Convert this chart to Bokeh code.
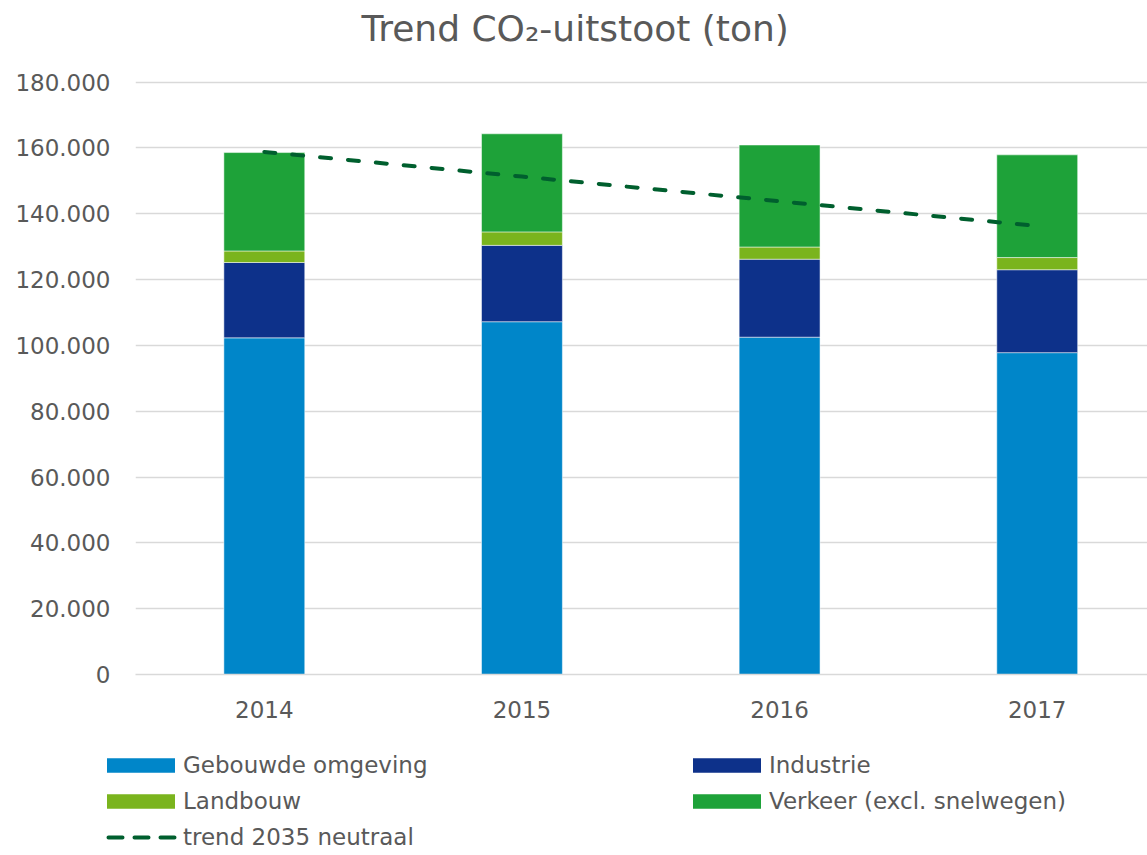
from bokeh.plotting import figure
from bokeh.layouts import column, row
from bokeh.models import (ColumnDataSource, Range1d, FixedTicker, Legend, LegendItem)
from bokeh.embed import file_html
from bokeh.resources import INLINE

years = ["2014", "2015", "2016", "2017"]
gebouwde = [102300, 107200, 102500, 97800]
industrie = [22900, 23200, 23700, 25200]
landbouw = [3500, 4100, 3700, 3700]
verkeer = [29900, 29800, 31000, 31200]
trend = [158800, 151300, 143800, 136300]
y_ticks = [0, 20000, 40000, 60000, 80000, 100000, 120000, 140000, 160000, 180000]

title_text = "Trend CO\u2082-uitstoot (ton)"
series_names = ["Gebouwde omgeving", "Industrie", "Landbouw", "Verkeer (excl. snelwegen)"]
colors = ["#0086C9", "#0D318A", "#7AB41D", "#1EA239"]
trend_name = "trend 2035 neutraal"
trend_color = "#005F2E"

FONT = "DejaVu Sans"
TXT = "#595959"
GRID = "#D9D9D9"

# ---- title strip ----
t = figure(width=1147, height=62, output_backend="svg", toolbar_location=None,
           x_range=Range1d(0, 1), y_range=Range1d(0, 1),
           x_axis_type=None, y_axis_type=None,
           min_border_left=0, min_border_right=0, min_border_top=0, min_border_bottom=0)
t.outline_line_color = None
t.xgrid.grid_line_color = None
t.ygrid.grid_line_color = None
t.title.text = title_text
t.title.text_font = FONT
t.title.text_font_size = "36px"
t.title.text_font_style = "normal"
t.title.text_color = TXT
t.title.align = "left"
t.title.offset = 226
t.title.standoff = 10

# ---- main chart ----
xpos = list(range(len(years)))
src = ColumnDataSource(dict(x=xpos, g=gebouwde, i=industrie, l=landbouw, v=verkeer, t=trend))

p = figure(width=1147, height=673, output_backend="svg", toolbar_location=None,
           title=None,
           x_range=Range1d(-0.5, 3.428), y_range=Range1d(0, 180500),
           min_border_left=135, min_border_right=0, min_border_top=18, min_border_bottom=61)
p.outline_line_color = None
p.background_fill_color = "white"
p.border_fill_color = "white"

stack_r = p.vbar_stack(["g", "i", "l", "v"], x="x", width=0.314, source=src,
                       color=colors, line_color="white", line_alpha=0.5, line_width=1)
trend_r = p.line(x="x", y="t", source=src, line_color=trend_color, line_width=4,
                 line_dash="11 17", line_cap="round")

p.xgrid.grid_line_color = None
p.ygrid.grid_line_color = GRID
p.ygrid.grid_line_width = 1.3
p.ygrid.ticker = FixedTicker(ticks=y_ticks)

yax = p.yaxis[0]
yax.ticker = FixedTicker(ticks=y_ticks)
yax.major_label_overrides = {v: f"{v:,}".replace(",", ".") for v in y_ticks}
yax.axis_line_color = None
yax.major_tick_line_color = None
yax.minor_tick_line_color = None
yax.major_label_text_font = FONT
yax.major_label_text_font_size = "23px"
yax.major_label_text_color = TXT
yax.major_label_standoff = 19

xax = p.xaxis[0]
xax.ticker = FixedTicker(ticks=xpos)
xax.major_label_overrides = {i: y for i, y in zip(xpos, years)}
xax.axis_line_color = GRID
xax.axis_line_width = 1.3
xax.major_tick_line_color = None
xax.minor_tick_line_color = None
xax.major_label_text_font = FONT
xax.major_label_text_font_size = "23px"
xax.major_label_text_color = TXT
xax.major_label_standoff = 20

# ---- legend strip (dummy renderers lie outside its ranges) ----
q = figure(width=1147, height=120, output_backend="svg", toolbar_location=None,
           x_range=Range1d(0, 1), y_range=Range1d(0, 1),
           x_axis_type=None, y_axis_type=None,
           min_border_left=0, min_border_right=0, min_border_top=0, min_border_bottom=0)
q.outline_line_color = None
q.xgrid.grid_line_color = None
q.ygrid.grid_line_color = None
dummy = ColumnDataSource(dict(x=[-10, -11], y=[-10, -11], top=[-10, -11]))
leg_r = [q.vbar(x="x", top="top", width=0.1, source=dummy, fill_color=c, line_color=None)
         for c in colors]
leg_t = q.line(x="x", y="y", source=dummy, line_color=trend_color, line_width=4,
               line_dash="14 12", line_dash_offset=16, line_cap="round")

items = [LegendItem(label=n, renderers=[r]) for n, r in zip(series_names, leg_r)]
items.append(LegendItem(label=trend_name, renderers=[leg_t]))
legend = Legend(items=items, ncols=2, orientation="horizontal",
                location=(98, 5), padding=0, margin=0, spacing=10,
                glyph_width=85, glyph_height=18, label_standoff=0, label_width=491,
                label_text_font=FONT, label_text_font_size="23px", label_text_color=TXT,
                border_line_color=None, background_fill_alpha=0)
q.add_layout(legend, "center")

layout = column(t, p, row(q, spacing=0), spacing=0)
open("out.html", "w").write(file_html(layout, INLINE))
